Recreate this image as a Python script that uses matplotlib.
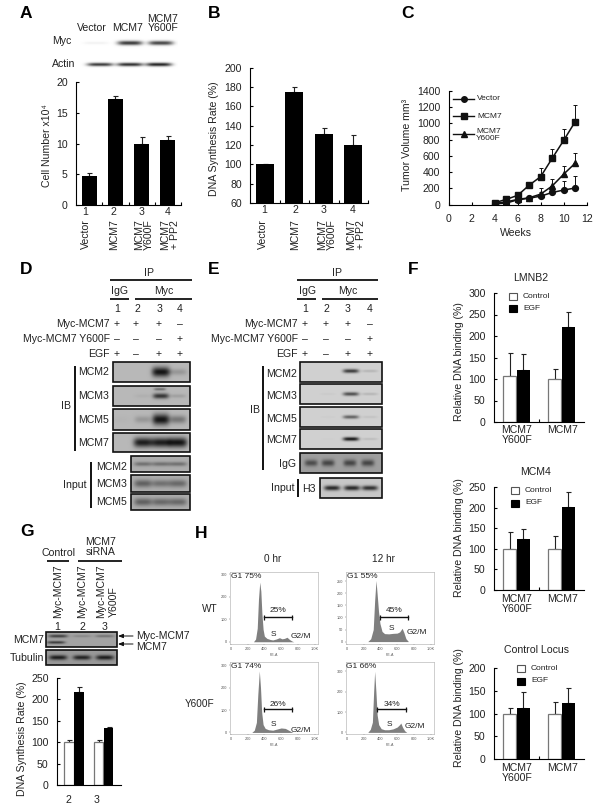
"""Multi-panel MCM7 figure. Everything is placed in reference pixels (604x811)."""

import numpy as np
import matplotlib
matplotlib.use("Agg")
import matplotlib.pyplot as plt
from matplotlib.patches import Rectangle

W, H = 604, 811
plt.rcParams["font.family"] = ["Liberation Sans", "DejaVu Sans"]
TXT = "#222222"

# panel A
a_vals = [4.7, 17.3, 10.0, 10.5]
a_tops = [5.2, 17.7, 11.0, 11.2]
# panel B
b_vals = [100, 175, 131, 120]
b_tops = [100, 180, 138, 130]
bar_names = ["Vector", "MCM7", "MCM7\nY600F", "MCM7\n+ PP2"]
# panel C
weeks = [4, 5, 6, 7, 8, 9, 10, 11]
c_vector = [10, 20, 60, 80, 105, 150, 180, 205]
c_vector_top = [20, 35, 80, 110, 150, 200, 290, 350]
c_mcm7 = [25, 65, 115, 240, 345, 570, 790, 1020]
c_mcm7_top = [45, 90, 150, 270, 450, 680, 935, 1225]
c_y600f = [15, 35, 65, 85, 130, 230, 375, 510]
c_y600f_top = [25, 50, 85, 110, 210, 310, 470, 640]
# panel F: [Y600F control, Y600F EGF], [MCM7 control, MCM7 EGF]
f_groups = ["MCM7\nY600F", "MCM7"]
lmnb2_ctrl, lmnb2_ctrl_top = [106, 100], [160, 124]
lmnb2_egf, lmnb2_egf_top = [122, 222], [157, 255]
mcm4_ctrl, mcm4_ctrl_top = [100, 100], [140, 131]
mcm4_egf, mcm4_egf_top = [125, 202], [148, 238]
locus_ctrl, locus_ctrl_top = [100, 100], [113, 125]
locus_egf, locus_egf_top = [111, 122], [148, 157]
# panel G
g_ctrl, g_ctrl_top = [100, 100], [106, 106]
g_sirna, g_sirna_top = [217, 133], [228, 136]
# panel H: channel / count outlines of the histograms
wt0_x = [270, 295, 315, 330, 345, 358, 370, 385, 400, 430, 470, 500, 540, 580, 610, 640, 670, 700, 730, 750]
wt0_y = [0, 12, 60, 190, 265, 225, 130, 55, 25, 15, 10, 8, 12, 18, 13, 15, 20, 10, 3, 0]
wt12_x = [250, 285, 315, 332, 348, 362, 378, 395, 420, 450, 500, 550, 600, 630, 660, 680, 705, 735]
wt12_y = [0, 12, 50, 170, 253, 195, 125, 75, 42, 33, 32, 34, 35, 40, 55, 38, 12, 0]
y0_x = [250, 280, 305, 322, 340, 354, 368, 385, 410, 450, 500, 550, 600, 650, 700, 740]
y0_y = [0, 10, 45, 170, 275, 200, 90, 35, 18, 12, 10, 15, 20, 18, 8, 0]
y12_x = [250, 280, 305, 320, 332, 347, 362, 380, 410, 450, 500, 550, 600, 630, 644, 665, 690, 715]
y12_y = [0, 15, 50, 200, 300, 200, 85, 38, 18, 13, 13, 17, 26, 38, 46, 25, 8, 0]
# blot band strength per lane
a_myc = [0.06, 0.85, 0.8]
a_actin = [0.85, 0.9, 0.95]
d_mcm2 = [0, 0, 1.0, 0.2]
d_mcm3 = [0, 0.05, 0.8, 0.15]
d_mcm5 = [0.02, 0.2, 1.0, 0.4]
d_mcm7 = [0, 0.95, 0.95, 1.0]
d_in2 = [0.4, 0.4, 0.4]
d_in3 = [0.5, 0.4, 0.45]
d_in5 = [0.5, 0.45, 0.45]
e_mcm2 = [0, 0, 0.8, 0.15]
e_mcm3 = [0, 0.04, 0.7, 0.15]
e_mcm5 = [0, 0.03, 0.6, 0.08]
e_mcm7 = [0, 0.02, 1.0, 0.12]
e_igg = [0.6, 0.65, 0.65, 0.65]
e_h3 = [0.9, 0.9, 0.85]
g_mcm7_top = [0.7, 0.2, 0.35]
g_mcm7_low = [0.75, 0, 0]
g_tub = [0.95, 0.9, 0.95]

fig = plt.figure(figsize=(W / 100, H / 100), dpi=100)
over = fig.add_axes([0, 0, 1, 1], zorder=5)
over.patch.set_alpha(0)
over.axis("off")


def T(x, y, s, ha="center", va="center", size=7.6, **kw):
    kw.setdefault("color", TXT)
    over.text(x, y, s, ha=ha, va=va, fontsize=size, **kw)


def L(x0, y0, x1, y1, lw=1.3, color="#111111"):
    over.plot([x0, x1], [y0, y1], color=color, lw=lw, solid_capstyle="butt")


def chart(left, top, right, bottom, ylim, yticks):
    ax = fig.add_axes([left / W, 1 - bottom / H, (right - left) / W, (bottom - top) / H])
    ax.set_ylim(*ylim)
    ax.set_yticks(yticks)
    ax.spines[["top", "right"]].set_visible(False)
    ax.spines[["left", "bottom"]].set_linewidth(0.8)
    ax.tick_params(direction="in", length=2.2, width=0.8, pad=6, labelsize=7.6, labelcolor=TXT)
    return ax


def bars(ax, xs, vals, tops, width, white=False):
    ax.errorbar(xs, vals, yerr=[np.zeros(len(vals)), np.array(tops) - np.array(vals)],
                fmt="none", ecolor="#222222", elinewidth=0.8, capsize=1.8, capthick=0.8, zorder=1)
    if white:
        ax.bar(xs, vals, width, color="white", edgecolor="#777777", lw=0.9, zorder=2)
    else:
        ax.bar(xs, vals, width, color="black", zorder=2)


def blot(x0, y0, x1, y1, lanes, strengths, bg=0.72, wx=8.0, wy=3.2, yc=None, border=True, extra=None):
    xx, yy = np.meshgrid(np.linspace(x0, x1, int((x1 - x0) * 2)), np.linspace(y0, y1, int((y1 - y0) * 2)))
    yc = (y0 + y1) / 2 if yc is None else yc
    dark = np.zeros_like(xx)
    for c, s in zip(lanes, strengths):
        dark += s * np.exp(-((xx - c) / wx) ** 4) * np.exp(-((yy - yc) / (wy * (0.55 + 0.45 * s))) ** 2)
    if extra:
        # second, fainter band in one lane
        c, ye, s, we = extra
        dark += s * np.exp(-((xx - c) / we) ** 4) * np.exp(-((yy - ye) / 1.4) ** 2)
    img = bg - (bg - 0.08) * np.clip(dark, 0, 1)
    over.imshow(img, cmap="gray", vmin=0, vmax=1, extent=[x0, x1, y1, y0], aspect="auto",
                interpolation="bilinear", zorder=1)
    if border:
        over.add_patch(Rectangle((x0, y0), x1 - x0, y1 - y0, fill=False, ec="#111111", lw=1.2, zorder=2))


# panel letters
for s, x, y in [("A", 26, 14), ("B", 214, 14), ("C", 407, 14), ("D", 26, 270), ("E", 214, 270),
                ("F", 413, 270), ("G", 27, 532), ("H", 201, 534)]:
    T(x, y, s, size=12.5, fontweight="bold", color="black")

# A
T(92, 28, "Vector")
T(128, 28, "MCM7")
T(163, 23.5, "MCM7\nY600F", linespacing=0.95)
T(52, 41, "Myc", ha="left")
T(52, 64, "Actin", ha="left")
blot(80, 36, 178, 50, [96, 130, 161], a_myc, bg=1.0, wx=12.5, wy=2.4, yc=43, border=False)
blot(80, 58, 178, 71, [100, 130, 159], a_actin, bg=1.0, wx=13, wy=1.9, yc=64.5, border=False)
ax = chart(76, 82.3, 181, 204.7, (0, 20), [0, 5, 10, 15, 20])
ax.set_xlim(-0.5, 3.5)
ax.set_xticks([0.5, 1.5, 2.5, 3.5], [])
bars(ax, range(4), a_vals, a_tops, 0.58)
T(47, 146, "Cell Number x10⁴", rotation=90)
for x, n, name, nx in zip([85, 113, 142, 168], "1234", bar_names, [86, 114, 144, 170]):
    T(x, 212, n)
    T(nx, 219, name, va="top", rotation=90, linespacing=1.0)

# B
ax = chart(250, 67.7, 368, 203, (60, 200), range(60, 201, 20))
ax.set_xlim(-0.5, 3.5)
ax.set_xticks([0.5, 1.5, 2.5, 3.5], [])
bars(ax, range(4), b_vals, b_tops, 0.61)
T(214, 139, "DNA Synthesis Rate (%)", rotation=90)
for x, n, name, nx in zip([264, 295, 324, 353], "1234", bar_names, [263, 295, 327, 356]):
    T(x, 210, n)
    T(nx, 219, name, va="top", rotation=90, linespacing=1.0)

# C
ax = chart(448.7, 90.7, 586.7, 204.7, (0, 1400), range(0, 1401, 200))
ax.set_xlim(0, 12)
ax.set_xticks(range(0, 13, 2))
ax.tick_params(axis="x", pad=7)
for ys, tops, mk, ms in [(c_vector, c_vector_top, "o", 4.2), (c_mcm7, c_mcm7_top, "s", 4.2),
                         (c_y600f, c_y600f_top, "^", 4.6)]:
    ax.errorbar(weeks, ys, yerr=[np.zeros(8), np.array(tops) - np.array(ys)], color="#111111", lw=1.1,
                elinewidth=0.7, capsize=1.6, capthick=0.7, marker=mk, ms=ms)
T(407, 145, "Tumor Volume mm³", rotation=90)
T(516, 233, "Weeks")
for y, mk, ms in [(99, "o", 4), (116, "s", 4), (134, "^", 4.4)]:
    over.plot([453, 474], [y, y], color="#111111", lw=1.0)
    over.plot([463.5], [y], color="#111111", marker=mk, ms=ms)
T(477, 99, "Vector", ha="left", size=6)
T(477, 116, "MCM7", ha="left", size=6)
T(476, 135, "MCM7\nY600F", ha="left", size=6, linespacing=1.1)

# D
T(149, 273, "IP")
L(110, 280, 192, 280)
T(120, 291, "IgG")
L(110, 299, 129, 299)
T(164, 291, "Myc")
L(135, 299, 192, 299)
for x, n in zip([117, 137, 160, 180], "1234"):
    T(x, 309, n)
for y, s, marks in [(324, "Myc-MCM7", "+ + + –"), (339, "Myc-MCM7 Y600F", "– – – +"), (354, "EGF", "+ – + +")]:
    T(110, y, s, ha="right")
    for x, m in zip([117, 136, 159, 180], marks.split()):
        T(x, y, m)
d_lanes = [120, 143, 161, 178]
blot(113, 362, 190, 382, d_lanes, d_mcm2, wx=9, wy=5)
blot(113, 386, 190, 406, d_lanes, d_mcm3, wx=8, wy=3, yc=396, extra=(160, 389, 0.45, 6))
blot(113, 409, 190, 430, d_lanes, d_mcm5, wx=8.5, wy=5.5)
blot(113, 433, 190, 452, d_lanes, d_mcm7, wx=9.5, wy=5)
for y, s in [(372, "MCM2"), (396, "MCM3"), (420, "MCM5"), (443, "MCM7")]:
    T(109, y, s, ha="right")
L(75, 366, 75, 451, lw=1.4)
T(66, 406, "IB")
in_lanes = [143, 161, 178]
blot(131, 456, 190, 472, in_lanes, d_in2, bg=0.68, wx=9, wy=3)
blot(131, 475, 190, 492, in_lanes, d_in3, bg=0.68, wx=9, wy=5)
blot(131, 494, 190, 510, in_lanes, d_in5, bg=0.68, wx=9, wy=5)
for y, s in [(467, "MCM2"), (484, "MCM3"), (502, "MCM5")]:
    T(127, y, s, ha="right")
L(91, 462, 91, 508, lw=1.4)
T(87, 485, "Input", ha="right")

# E
T(337, 273, "IP")
L(297, 280, 378, 280)
T(307, 291, "IgG")
L(297, 299, 316, 299)
T(348, 291, "Myc")
L(322, 299, 378, 299)
e_lanes = [305, 326, 348, 370]
for x, n in zip(e_lanes, "1234"):
    T(x, 309, n)
for y, s, marks in [(324, "Myc-MCM7", "+ + + –"), (339, "Myc-MCM7 Y600F", "– – – +"), (354, "EGF", "+ – + +")]:
    T(298, y, s, ha="right")
    for x, m in zip(e_lanes, marks.split()):
        T(x, y, m)
e_bands = [308, 328, 351, 370]
blot(300, 362, 382, 382, e_bands, e_mcm2, bg=0.82, wy=2.2, yc=371)
blot(300, 384, 382, 404, e_bands, e_mcm3, bg=0.82, wy=2.2, yc=394)
blot(300, 407, 382, 427, e_bands, e_mcm5, bg=0.82, wy=2.2, yc=417)
blot(300, 429, 382, 449, e_bands, e_mcm7, bg=0.82, wy=1.9, yc=439)
blot(300, 453, 382, 473, [311, 328, 350, 368], e_igg, bg=0.62, wx=6.5, wy=4, yc=463)
blot(320, 478, 382, 498, [332, 352, 370], e_h3, bg=0.78, wx=8, wy=2.6, yc=488)
for y, s in [(374, "MCM2"), (396, "MCM3"), (419, "MCM5"), (440, "MCM7")]:
    T(297, y, s, ha="right")
T(296, 464, "IgG", ha="right")
L(263, 366, 263, 470, lw=1.4)
T(255, 410, "IB")
T(295, 488, "Input", ha="right")
L(298, 479, 298, 497, lw=1.4)
T(316, 489, "H3", ha="right")


# F
def f_panel(top, bottom, ymax, yticks, ctrl, ctrl_top, egf, egf_top, title, title_x, title_y, sq_x, sq_y, ylab_y, lab_y):
    ax = chart(494, top, 584, bottom, (0, ymax), yticks)
    ax.set_xlim(-0.5, 1.5)
    ax.set_xticks([0.5], [])
    bars(ax, np.array([0, 1]) - 0.15, ctrl, ctrl_top, 0.29, white=True)
    bars(ax, np.array([0, 1]) + 0.15, egf, egf_top, 0.29)
    T(title_x, title_y, title)
    over.add_patch(Rectangle((sq_x, sq_y[0] - 3.5), 7.5, 7, fc="white", ec="#555555", lw=0.8))
    over.add_patch(Rectangle((sq_x, sq_y[1] - 3.5), 7.5, 7, fc="black", ec="black", lw=0.8))
    T(sq_x + 14, sq_y[0], "Control", ha="left", size=6)
    T(sq_x + 14, sq_y[1], "EGF", ha="left", size=6)
    T(459, ylab_y, "Relative DNA binding (%)", rotation=90)
    T(517, lab_y, f_groups[0], va="top", linespacing=1.0)
    T(563, lab_y, f_groups[1], va="top")


f_panel(293, 422, 300, range(0, 301, 50), lmnb2_ctrl, lmnb2_ctrl_top, lmnb2_egf, lmnb2_egf_top,
        "LMNB2", 531, 278, 509, (296, 308), 362, 425)
f_panel(487, 590, 250, range(0, 251, 50), mcm4_ctrl, mcm4_ctrl_top, mcm4_egf, mcm4_egf_top,
        "MCM4", 536, 472, 511, (490, 503), 538, 594)
f_panel(668, 759, 200, range(0, 201, 50), locus_ctrl, locus_ctrl_top, locus_egf, locus_egf_top,
        "Control Locus", 537, 650, 517, (668, 681), 708, 763)

# G
T(101, 547, "MCM7\nsiRNA", linespacing=1.05)
T(59, 553, "Control")
L(47, 561, 69, 561)
L(78, 561, 122, 561)
T(58, 591, "Myc-MCM7", rotation=90)
T(82, 591, "Myc-MCM7", rotation=90)
T(101, 591, "Myc-MCM7", rotation=90)
T(114, 617, "Y600F", rotation=90, va="bottom")
for x, n in zip([57, 82, 105], "123"):
    T(x, 627, n)
g_lanes = [58, 82, 105]
blot(46, 632, 117, 647, g_lanes, g_mcm7_top, bg=0.64, wx=9.5, wy=1.8, yc=636,
     extra=(56, 642.5, g_mcm7_low[0], 9))
blot(46, 650, 117, 665, [58, 82, 105], g_tub, bg=0.6, wx=9, wy=2.5)
T(44, 640, "MCM7", ha="right")
T(44, 658, "Tubulin", ha="right")
for y0, y1, s in [(636, 636, "Myc-MCM7"), (644, 647, "MCM7")]:
    over.annotate("", xy=(118, y0), xytext=(133, y0),
                  arrowprops=dict(arrowstyle="-|>,head_width=0.12,head_length=0.3", lw=0.7, color="#111111",
                                  shrinkA=0, shrinkB=0))
    T(136, y1, s, ha="left")
ax = chart(57, 678, 121, 785, (0, 250), range(0, 251, 50))
ax.set_xlim(-0.58, 1.59)
ax.set_xticks([])
bars(ax, [-0.17, 0.83], g_ctrl, g_ctrl_top, 0.33, white=True)
bars(ax, [0.17, 1.17], g_sirna, g_sirna_top, 0.33)
T(22, 739, "DNA Synthesis Rate (%)", rotation=90)
T(68, 800, "2")
T(97, 800, "3")

# H
T(273, 559, "0 hr", size=7.2)
T(383, 559, "12 hr", size=7.2)
T(210, 609, "WT", size=7.2)
T(200, 704, "Y600F", size=7.2)
for box, xs, ys, ylim, yticks in [
    ((230, 572, 318, 644), wt0_x, wt0_y, (-10, 310), [0, 100, 200, 300]),
    ((346, 572, 434, 644), wt12_x, wt12_y, (-10, 288), [0, 50, 100, 150, 200, 250]),
    ((230, 662, 318, 734), y0_x, y0_y, (-7, 315), [0, 100, 200, 300]),
    ((346, 662, 434, 734), y12_x, y12_y, (-8, 346), [0, 100, 200, 300]),
]:
    l, t, r, b = box
    ax = fig.add_axes([l / W, 1 - b / H, (r - l) / W, (b - t) / H])
    ax.fill_between(xs, 0, ys, color="#7f7f7f", lw=0)
    ax.set_xlim(-10, 1040)
    ax.set_ylim(*ylim)
    ax.set_xticks([0, 200, 400, 600, 800, 1000], ["0", "200", "400", "600", "800", "1.0K"])
    ax.set_yticks(yticks)
    ax.tick_params(length=1, width=0.3, labelsize=2.8, pad=1, labelcolor="#555555", color="#555555")
    for sp in ax.spines.values():
        sp.set_linewidth(0.4)
        sp.set_color("#aaaaaa")
    T((l + r) / 2, b + 11, "PE-A", size=2.6, color="#555555")
for x, y, s in [(231, 576, "G1 75%"), (347, 576, "G1 55%"), (231, 667, "G1 74%"), (346, 667, "G1 66%")]:
    T(x, y, s, ha="left", size=6)
for cx, yt, x0, x1, yl, s in [(278, 611, 264, 292, 617, "25%"), (394, 611, 380, 408, 617, "45%"),
                              (278, 704, 264, 292, 709, "26%"), (392, 704, 377, 406, 709, "34%")]:
    T(cx, yt, s, size=6)
    over.plot([x0, x1], [yl, yl], color="#111111", lw=1.0)
    L(x0, yl - 2.5, x0, yl + 2.5, lw=0.9)
    L(x1, yl - 2.5, x1, yl + 2.5, lw=0.9)
for x, y, s in [(273, 635, "S"), (301, 636, "G2/M"), (391, 629, "S"), (417, 633, "G2/M"),
                (273, 724, "S"), (301, 730, "G2/M"), (389, 724, "S"), (415, 727, "G2/M")]:
    T(x, y, s, size=6)

over.set_xlim(0, W)
over.set_ylim(H, 0)
fig.savefig("out.png", dpi=100)
